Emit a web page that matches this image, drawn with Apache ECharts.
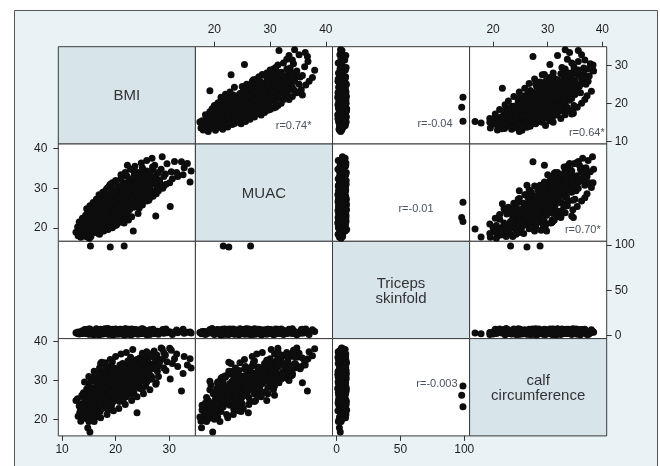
<!DOCTYPE html>
<html lang="en">
<head>
<meta charset="UTF-8">
<title>Scatterplot matrix</title>
<script src="https://cdn.jsdelivr.net/npm/echarts@6/dist/echarts.min.js"></script>
<style>
  html, body { margin: 0; background: #fff; }
  #chart { width: 660px; height: 466px; }
</style>
</head>
<body>
<div id="chart"></div>
<script>
// variables, in matrix order
var names = ['BMI', 'MUAC', 'Triceps\nskinfold', 'calf\ncircumference'];
var ranges = [[9.3, 34.9], [16.6, 41.2], [-3.3, 104.2], [15.7, 40.8]];
var ticks = [[10, 20, 30], [20, 30, 40], [0, 50, 100], [20, 30, 40]];

// one value per subject, same order in every array
var bmi = [12.6,12.9,13.0,13.2,13.4,13.5,13.7,13.8,13.9,14.0,
  14.2,14.3,14.5,14.6,14.8,14.9,15.0,15.1,15.2,15.3,
  15.4,15.5,15.5,15.6,15.7,15.8,15.8,15.9,16.0,16.0,
  14.4,15.0,16.1,16.2,16.3,16.4,16.5,16.6,16.7,16.8,
  16.9,17.0,17.0,17.1,17.2,17.3,17.4,17.4,17.5,17.6,
  17.6,17.7,17.8,17.8,17.9,18.0,18.0,17.5,17.2,16.4,
  18.1,18.2,18.3,18.4,18.5,18.5,18.6,18.7,18.8,18.8,
  18.9,19.0,19.0,19.1,19.2,19.3,19.4,19.4,19.5,19.6,
  19.6,19.7,19.8,19.8,19.9,20.0,20.0,18.6,19.2,18.9,
  20.1,20.2,20.3,20.4,20.5,20.6,20.6,20.7,20.8,20.9,
  21.0,21.0,21.1,21.2,21.3,21.3,21.4,21.5,21.6,21.6,
  21.7,21.8,21.9,22.0,22.0,20.8,21.4,22.1,22.2,22.3,
  22.4,22.5,22.6,22.7,22.8,22.9,23.0,23.0,23.1,23.2,
  23.3,23.4,23.5,23.6,23.7,23.8,23.9,24.0,22.6,23.4,
  24.1,24.2,24.4,24.5,24.6,24.8,24.9,25.0,25.2,25.3,
  25.5,25.6,25.8,25.9,26.0,24.7,26.2,26.4,26.6,26.8,
  27.0,27.2,27.5,27.6,27.8,26.9,28.2,28.5,28.7,29.0,
  29.3,29.6,30.1,30.2,30.4,31.0,31.6,32.3,32.8,33.4,
  33.9,34.1,15.3,19.0,21.6,
  14.1,14.3,14.6,14.7,14.9,15.0,15.1,15.2,15.4,15.6,
  15.7,15.9,16.0,16.1,16.2,16.3,16.5,16.6,16.7,16.9,
  17.0,17.1,17.2,17.3,17.5,17.6,17.7,17.8,17.9,18.0,
  18.1,18.2,18.3,18.4,18.5,18.6,18.7,18.8,18.9,19.0,
  19.1,19.2,19.3,19.4,19.5,19.6,19.7,19.8,19.9,20.0,
  20.1,20.2,20.3,20.4,20.5,20.6,20.7,20.8,20.9,21.0,
  21.1,21.2,21.3,21.4,21.5,21.6,21.7,21.8,21.9,22.0,
  22.1,22.2,22.3,22.4,22.5,22.6,22.7,22.8,22.9,23.0,
  23.1,23.2,23.3,23.5,23.6,23.7,23.8,24.0,24.2,24.3,
  24.5,24.6,24.8,25.0,25.1,25.3,25.4,25.6,25.7,25.9,
  26.1,26.3,26.5,26.7,27.0,27.3,27.4,27.7,28.0,28.3,
  13.6,14.0,14.5,13.3,14.8,15.4,16.2,16.8,17.4,18.4,
  19.0,20.2,21.0,22.2,23.4,24.4,25.0,26.2,27.6,29.0,
  14.6,15.2,15.8,16.4,16.9,17.6,18.2,18.8,19.4,20.0,
  17.0,17.8,18.6,19.4,20.0,20.8,21.6,22.4,23.0,24.2,
  21.0,21.8,22.8,23.6,24.8,25.8,26.8,22.2,20.4,19.6,
  25.0,25.8,26.4,27.0,28.0,28.8,29.4,30.6,31.4,32.6,
  16.0,17.2,18.4,19.6,20.6,21.8,23.0,24.0,25.2,26.4,
  14.2,15.0,16.0,17.0,18.0,19.0,20.0,21.0,22.0,23.2,
  16.6,17.4,18.2,19.0,19.8,20.6,21.4,22.2,23.0,24.0];
var muac = [18.9,20.2,18.0,21.5,19.2,17.6,20.8,22.4,19.5,18.4,
  20.0,21.2,19.0,22.0,17.7,20.6,18.6,21.8,19.7,23.0,
  20.3,22.5,18.9,21.0,24.0,20.0,22.8,19.5,21.6,23.5,
  23.2,24.5,20.8,22.3,24.6,19.8,23.0,21.5,25.4,22.0,
  20.4,23.8,26.2,21.2,22.8,24.9,22.6,20.0,23.4,25.8,
  21.8,24.2,22.2,26.8,23.6,21.0,25.0,19.2,23.0,22.8,
  23.0,25.6,21.6,24.4,27.0,22.6,20.6,25.2,23.8,26.4,
  22.0,24.8,27.6,23.4,21.2,25.8,28.2,24.2,22.4,26.6,
  24.6,23.0,27.2,25.4,21.8,26.0,28.8,26.0,20.2,29.0,
  24.0,27.0,25.2,22.8,28.4,26.2,24.4,29.6,25.8,23.6,
  27.8,26.6,24.8,28.6,30.4,25.4,27.4,23.2,26.8,29.2,
  25.0,28.0,31.0,26.4,24.2,30.0,22.4,33.1,27.6,29.8,
  25.6,28.8,31.6,27.0,30.2,26.0,29.0,32.0,27.8,30.6,
  19.2,28.4,31.2,26.6,29.4,32.6,28.0,26.1,24.6,25.2,
  30.0,34.0,28.6,31.8,29.6,33.0,27.4,31.0,33.6,29.0,
  32.4,30.4,34.4,28.2,31.6,26.4,33.8,30.8,32.8,29.4,
  34.6,31.4,23.0,33.2,30.2,35.4,32.0,34.8,38.0,30.6,
  33.6,36.2,31.4,25.4,34.2,36.8,33.0,36.7,35.2,36.3,
  31.6,34.4,21.6,22.6,26.5,
  21.0,18.2,20.4,23.6,19.2,21.4,17.4,22.6,24.2,19.8,
  22.2,25.0,18.8,23.2,20.6,21.8,25.8,19.4,23.8,22.0,
  20.6,24.4,26.6,21.4,22.2,27.4,20.8,24.8,25.6,23.0,
  20.4,27.8,23.6,26.2,21.2,24.0,28.6,22.6,25.6,23.2,
  26.8,22.8,24.6,29.8,25.0,21.6,27.8,23.8,26.2,24.4,
  29.2,23.2,27.4,25.4,22.2,28.2,26.4,24.2,30.6,25.6,
  27.2,23.8,29.0,26.0,31.4,24.4,28.4,26.6,22.8,29.6,
  25.8,30.8,27.2,24.8,32.4,28.0,29.6,26.8,31.0,27.6,
  30.0,25.4,28.8,33.4,27.2,30.8,29.0,31.8,27.8,30.4,
  29.0,32.6,30.2,28.4,32.0,30.8,27.6,33.2,31.2,29.6,
  32.2,29.8,34.2,31.0,32.6,35.8,29.2,32.0,34.0,31.2,
  20.0,21.8,17.8,18.6,22.8,17.8,24.8,18.6,28.0,30.0,
  31.0,20.8,32.4,23.4,34.4,25.0,35.2,27.0,28.6,33.0,
  24.8,25.6,26.4,27.2,28.4,29.0,29.6,30.6,31.4,32.0,
  18.4,19.2,19.6,20.0,20.6,21.4,21.2,22.0,22.8,23.6,
  33.4,34.0,34.8,35.6,36.4,37.0,37.6,35.8,30.8,29.4,
  25.8,26.8,27.6,28.0,29.4,30.0,31.0,32.4,34.0,33.4,
  21.0,22.4,23.4,24.4,25.2,26.2,27.4,28.4,29.6,30.6,
  20.6,21.8,22.6,23.8,24.6,25.4,26.8,27.6,28.6,30.2,
  22.4,23.6,24.2,25.8,26.4,27.6,28.2,28.8,30.4,31.4];
var triceps = [3.1,2.4,4.0,1.8,3.6,2.9,5.1,2.2,3.3,4.4,
  3.8,2.6,4.7,3.0,2.1,5.4,3.5,1.6,2.8,4.1,
  6.2,3.2,2.5,4.8,3.7,1.9,5.0,3.4,2.7,4.3,
  3.9,2.3,3.0,4.6,2.0,3.8,5.6,2.9,3.5,1.7,
  4.2,3.1,2.4,6.0,3.6,4.9,3.3,2.6,4.0,1.9,
  5.2,3.4,2.8,4.5,3.9,2.2,6.4,3.7,3.0,4.1,
  3.3,2.5,4.8,3.6,1.8,5.5,3.0,4.3,2.7,3.9,
  6.1,2.3,4.6,3.2,5.0,2.9,3.5,4.4,1.6,3.8,
  5.8,2.6,4.0,3.1,4.9,2.1,3.4,4.7,3.0,2.8,
  5.3,3.6,2.4,4.2,3.0,6.3,2.7,4.5,3.2,1.9,
  4.0,5.1,2.9,3.7,4.8,2.2,3.5,5.7,3.1,2.6,
  4.3,3.9,2.0,4.6,3.3,2.8,4.1,3.6,5.0,3.0,
  2.5,4.4,3.8,2.3,6.0,3.4,4.7,2.9,3.6,1.8,
  4.2,5.2,3.1,2.7,4.0,3.5,2.4,4.9,3.2,4.5,
  3.8,2.6,5.4,3.0,4.1,2.2,3.7,4.8,3.3,2.7,
  5.9,3.5,4.3,2.0,3.9,4.6,3.1,4.4,2.8,5.0,
  3.6,2.4,4.0,3.2,4.7,3.4,2.9,3.8,4.5,2.6,
  5.3,3.1,4.2,3.5,2.8,4.0,3.3,4.6,2.5,3.7,
  4.1,3.0,99,98,99,
  3.2,4.5,2.6,3.9,5.2,2.0,3.4,4.2,2.9,3.7,
  5.0,2.5,3.6,4.4,2.2,3.1,4.8,3.3,2.7,5.5,
  3.0,2.4,4.1,3.8,2.8,4.6,3.5,2.1,5.1,3.2,
  4.3,2.6,3.7,4.9,2.3,3.4,4.0,2.9,5.6,3.3,
  2.5,4.6,3.0,3.9,2.2,4.8,3.6,2.8,5.3,3.1,
  4.2,2.7,3.5,4.4,2.4,3.8,5.0,3.0,2.6,4.0,
  3.4,5.4,2.9,3.7,4.5,2.3,3.2,4.7,3.6,2.8,
  4.1,3.3,2.6,5.2,3.0,4.3,2.4,3.9,4.6,3.1,
  2.7,4.4,3.5,2.9,5.0,3.2,4.0,2.5,3.7,4.2,
  3.4,2.8,4.9,3.6,2.4,4.1,3.0,5.1,3.3,2.6,
  4.3,3.5,2.9,4.6,3.1,2.7,4.0,3.8,2.5,4.4,
  3.5,2.8,4.1,3.0,2.4,4.6,3.2,2.9,4.4,3.6,
  2.8,4.2,3.4,2.5,3.9,4.8,3.0,2.6,4.1,3.3,
  6.8,7.2,1.2,7.6,0.9,6.6,7.0,1.4,6.9,7.4,
  1.1,6.7,7.8,1.3,6.5,7.1,0.8,6.9,7.3,1.5,
  6.4,7.5,1.0,6.8,7.2,1.2,6.6,7.0,1.6,6.2,
  7.6,1.1,6.5,7.0,1.4,6.8,7.4,1.2,6.3,7.1,
  1.3,6.9,7.2,1.0,6.6,7.4,1.5,6.4,7.0,1.2,
  6.7,7.3,1.1,6.5,7.7,1.4,6.8,7.1,1.3,6.6,
  3.0,4.2,2.6,3.8,4.6,2.2,3.4,5.0,2.8,3.6];
var calf = [24.8,25.3,20.8,23.4,22.1,19.5,26.2,24.0,21.0,23.2,
  22.6,24.5,20.2,25.8,17.8,23.0,19.4,27.0,16.7,24.4,
  21.8,26.4,22.9,25.0,28.0,20.0,23.6,24.2,26.9,22.5,
  26.0,27.6,24.0,27.8,25.5,21.4,29.0,23.2,28.4,25.2,
  26.6,24.6,30.0,22.0,26.0,27.2,34.7,23.8,28.6,26.4,
  24.8,30.6,27.0,28.0,25.6,29.4,24.0,22.8,34.4,28.2,
  26.2,28.8,24.4,30.2,29.6,27.4,25.0,26.8,31.6,27.8,
  28.4,25.4,31.0,29.0,26.0,30.4,28.6,27.0,24.6,32.2,
  29.8,27.6,26.6,31.2,28.0,29.2,30.8,33.0,23.4,29.8,
  27.4,31.8,28.8,26.4,30.0,32.6,29.4,28.2,30.6,27.0,
  33.4,28.0,31.0,29.6,32.0,26.2,30.2,28.6,33.8,31.4,
  29.0,27.6,30.6,32.4,25.8,34.0,24.8,33.0,30.0,33.2,
  28.4,31.6,29.4,34.6,32.0,27.2,30.8,34.2,28.8,31.2,
  29.8,33.0,29.8,31.8,35.2,32.6,30.4,21.7,29.6,26.8,
  33.6,31.4,29.2,35.8,32.2,30.6,31.0,34.8,32.8,30.0,
  36.4,28.6,33.4,31.8,35.0,28.0,31.2,36.8,33.8,30.4,
  34.2,37.6,29.0,35.4,32.4,33.0,34.6,38.4,38.2,33.2,
  36.6,34.8,38.3,30.4,37.8,35.6,33.6,27.3,36.2,34.0,
  35.6,33.2,23.2,26.2,28.6,
  25.6,21.4,27.8,23.8,22.2,29.0,20.6,25.2,30.4,26.6,
  21.2,25.8,24.6,29.8,20.6,27.4,26.2,28.8,23.0,31.2,
  26.8,22.6,29.2,30.8,25.0,31.8,27.8,23.4,29.6,32.4,
  24.2,27.2,28.2,25.6,30.6,22.8,30.0,26.4,33.6,27.8,
  28.6,31.6,24.0,30.6,27.2,29.4,33.2,25.2,30.0,28.4,
  31.2,29.6,26.8,33.0,27.6,29.0,24.6,31.8,32.8,29.8,
  27.4,30.8,34.4,28.8,31.0,32.6,26.0,30.4,29.2,33.6,
  31.4,28.6,35.0,30.2,32.2,27.6,33.4,29.0,31.6,26.4,
  34.0,30.6,32.8,30.0,28.4,33.8,31.0,35.4,32.0,29.6,
  33.0,30.8,34.2,31.6,36.0,32.6,29.8,34.6,30.8,33.2,
  32.0,34.4,36.2,31.0,33.6,35.8,33.0,36.6,33.8,35.2,
  23.8,26.8,22.4,21.6,24.6,23.6,24.4,25.6,28.0,28.8,
  32.4,25.6,31.6,27.0,34.4,28.0,37.0,30.2,29.4,37.2,
  22.0,28.4,30.8,24.6,31.6,27.0,33.8,29.2,34.8,30.4,
  24.2,27.6,22.4,26.8,29.2,25.0,28.0,30.8,27.2,31.0,
  33.0,31.8,36.0,33.6,35.2,37.4,36.4,29.4,26.2,24.8,
  27.8,29.6,31.4,33.4,31.0,35.6,32.6,34.4,36.8,31.8,
  19.4,20.4,21.2,22.2,22.8,23.8,24.8,25.8,26.6,27.6,
  29.6,31.0,32.4,33.2,34.6,35.4,36.2,36.8,37.2,38.0,
  26.0,27.4,28.0,28.8,29.6,30.4,31.2,31.8,32.6,33.4];

// correlation labels and the cell (row, col) they sit in
var rText = ['r=0.74*', 'r=-0.04', 'r=0.64*', 'r=-0.01', 'r=0.70*', 'r=-0.003'];
var rCell = [[0, 1], [0, 2], [0, 3], [1, 2], [1, 3], [3, 2]];
// offsets of each label: from cell right edge, from cell bottom edge
var rOffset = [[21, 18], [17, 20], [2, 11], [36, 32], [6, 11], [12, 52]];

var vars = [bmi, muac, triceps, calf];
var L = 58.3, T = 46.7, CW = 137.1, CH = 97.3;
var FONT = '"Liberation Sans", Arial, sans-serif';

var chart = echarts.init(document.getElementById('chart'), null, { renderer: 'canvas' });

var grids = [], xAxes = [], yAxes = [], series = [];
for (var r = 0; r < 4; r++) {
  for (var c = 0; c < 4; c++) {
    var g = r * 4 + c;
    grids.push({
      left: L + c * CW, top: T + r * CH, width: CW, height: CH,
      show: true,
      backgroundColor: r === c ? '#d7e5eb' : '#ffffff',
      borderColor: '#3b3b3b', borderWidth: 1,
      containLabel: false, outerBoundsMode: 'none'
    });
    var showX = (r === 0 && (c === 1 || c === 3)) || (r === 3 && (c === 0 || c === 2));
    var showY = (c === 0 && (r === 1 || r === 3)) || (c === 3 && (r === 0 || r === 2));
    xAxes.push({
      type: 'value', gridIndex: g,
      min: ranges[c][0], max: ranges[c][1],
      position: r === 0 ? 'top' : 'bottom',
      axisLine: { show: false, onZero: false },
      splitLine: { show: false },
      axisTick: { show: showX, length: 5, customValues: ticks[c], lineStyle: { color: '#333' } },
      axisLabel: {
        show: showX, customValues: ticks[c], margin: r === 0 ? 11 : 8,
        fontSize: 12, color: '#1e1e1e', fontFamily: FONT
      }
    });
    yAxes.push({
      type: 'value', gridIndex: g,
      min: ranges[r][0], max: ranges[r][1],
      position: c === 3 ? 'right' : 'left',
      axisLine: { show: false, onZero: false },
      splitLine: { show: false },
      axisTick: { show: showY, length: 5, customValues: ticks[r], lineStyle: { color: '#333' } },
      axisLabel: {
        show: showY, customValues: ticks[r], margin: c === 0 ? 11 : 8,
        fontSize: 12, color: '#1e1e1e', fontFamily: FONT
      }
    });
    if (r !== c) {
      series.push({
        type: 'scatter', xAxisIndex: g, yAxisIndex: g,
        data: vars[c].map(function (v, i) { return [v, vars[this.r][i]]; }, { r: r }),
        symbol: 'circle', symbolSize: 7,
        itemStyle: { color: '#0d0d0d', opacity: 1, borderWidth: 0 },
        silent: true
      });
    }
  }
}

var graphics = [{
  type: 'rect', z: -10,
  shape: { x: 14.5, y: 10.5, width: 643, height: 470 },
  style: { fill: '#e9f2f4', stroke: '#555', lineWidth: 1 }
}];
names.forEach(function (n, i) {
  graphics.push({
    type: 'text',
    x: L + i * CW + CW / 2, y: T + i * CH + CH / 2 + 1,
    style: {
      text: n, align: 'center', verticalAlign: 'middle',
      fontSize: 15, lineHeight: 15, fontFamily: FONT, fill: '#333'
    }
  });
});
rText.forEach(function (t, i) {
  var cell = rCell[i];
  graphics.push({
    type: 'text',
    x: L + (cell[1] + 1) * CW - rOffset[i][0],
    y: T + (cell[0] + 1) * CH - rOffset[i][1],
    style: {
      text: t, align: 'right', verticalAlign: 'middle',
      fontSize: 11, fontFamily: FONT, fill: '#4a5262'
    }
  });
});

chart.setOption({
  backgroundColor: '#ffffff',
  animation: false,
  grid: grids,
  xAxis: xAxes,
  yAxis: yAxes,
  series: series,
  graphic: graphics
});
</script>
</body>
</html>
